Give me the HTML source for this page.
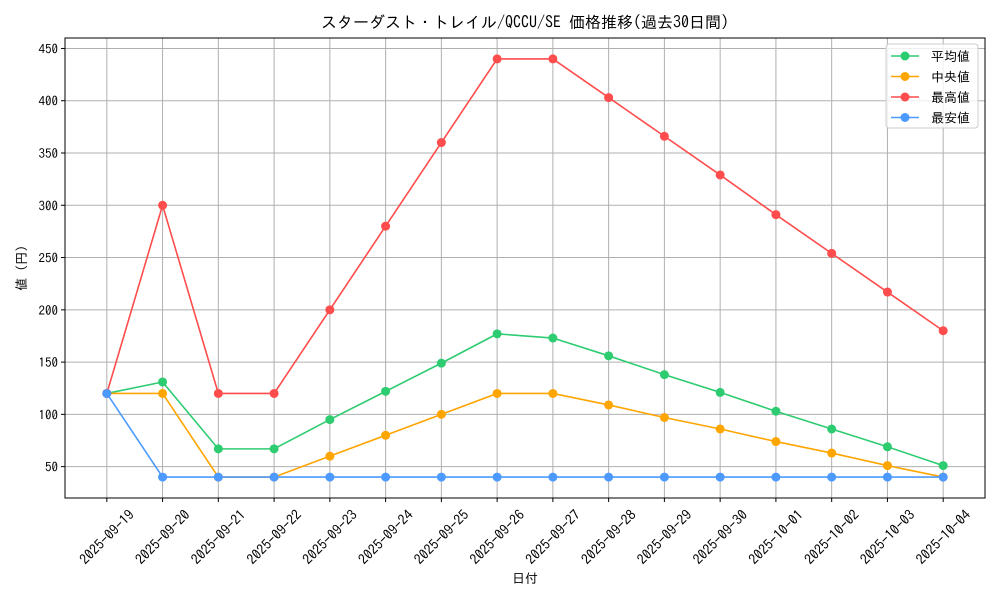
<!DOCTYPE html>
<html><head><meta charset="utf-8"><style>
html,body{margin:0;padding:0;background:#fff;}
svg text{font-family:"IPAGothic","Noto Sans CJK JP",monospace;fill:#000;}
</style></head><body>
<svg id="chart" width="1000" height="600" xmlns="http://www.w3.org/2000/svg">
<rect x="0" y="0" width="1000" height="600" fill="#fff"/>
<g id="grid"></g>
<g id="series"></g>
<rect x="65" y="38" width="920" height="460" fill="none" stroke="#000" stroke-width="1"/>
<g id="axes"></g>
<text x="525" y="28" text-anchor="middle" font-size="16">スターダスト・トレイル/QCCU/SE 価格推移(過去30日間)</text>
<text x="525" y="583" text-anchor="middle" font-size="13">日付</text>
<text transform="translate(26,268) rotate(-90)" text-anchor="middle" font-size="13">値 (円)</text>
<g id="legend">
<rect x="886" y="44" width="92" height="84" rx="3" fill="#fff" fill-opacity="0.8" stroke="#ccc"/>
</g>
</svg>
<script>
const categories=["2025-09-19","2025-09-20","2025-09-21","2025-09-22","2025-09-23","2025-09-24","2025-09-25","2025-09-26","2025-09-27","2025-09-28","2025-09-29","2025-09-30","2025-10-01","2025-10-02","2025-10-03","2025-10-04"];
const avgValues=[120,131,67,67,95,122,149,177,173,156,138,121,103,86,69,51];
const medianValues=[120,120,40,40,60,80,100,120,120,109,97,86,74,63,51,40];
const maxValues=[120,300,120,120,200,280,360,440,440,403,366,329,291,254,217,180];
const minValues=[120,40,40,40,40,40,40,40,40,40,40,40,40,40,40,40];
const yTicks=[50,100,150,200,250,300,350,400,450];
const seriesNames=["平均値","中央値","最高値","最安値"];
const seriesColors=["#2ecc71","#ffa500","#ff4c4c","#4c9aff"];

const NS="http://www.w3.org/2000/svg";
const L=65,R=985,T=38,B=498;
const all=[].concat(avgValues,medianValues,maxValues,minValues);
const vmin=Math.min(...all),vmax=Math.max(...all),pad=(vmax-vmin)*0.05;
const y0=vmin-pad,y1=vmax+pad;
const n=categories.length,xpad=(n-1)*0.05;
function xs(i){return L+(i+xpad)/((n-1)+2*xpad)*(R-L);}
function ys(v){return B-(v-y0)/(y1-y0)*(B-T);}
function mk(tag,attrs,parent){const e=document.createElementNS(NS,tag);for(const k in attrs)e.setAttribute(k,attrs[k]);parent.appendChild(e);return e;}
const grid=document.getElementById('grid'),axes=document.getElementById('axes'),ser=document.getElementById('series'),leg=document.getElementById('legend');
categories.forEach((c,i)=>{
  const x=xs(i);
  const g=mk('line',{x1:x,x2:x,y1:T,y2:B,stroke:'#b0b0b0','stroke-width':1},grid);
  
  
  mk('line',{x1:x,x2:x,y1:B,y2:B+4,stroke:'#000'},axes);
  const t=mk('text',{transform:`translate(${x},${B+39}) rotate(-45)`,'text-anchor':'middle','dominant-baseline':'central','font-size':14},axes);
  t.textContent=c;
  
  
});
yTicks.forEach(v=>{
  const y=ys(v);
  const g=mk('line',{x1:L,x2:R,y1:y,y2:y,stroke:'#b0b0b0','stroke-width':1},grid);
  
  
  mk('line',{x1:L-4,x2:L,y1:y,y2:y,stroke:'#000'},axes);
  const t=mk('text',{x:L-7,y:y+5,'text-anchor':'end','font-size':13},axes);
  t.textContent=v;
  
  
});
[avgValues,medianValues,maxValues,minValues].forEach((vals,s)=>{
  const col=seriesColors[s];
  const pl=mk('polyline',{points:vals.map((v,i)=>xs(i)+','+ys(v)).join(' '),fill:'none',stroke:col,'stroke-width':1.6},ser);
  
  
  vals.forEach((v,i)=>{
    const c=mk('circle',{cx:xs(i),cy:ys(v),r:4.5,fill:col},ser);
    
    
  });
  const ly=56+s*20.5;
  mk('line',{x1:891,x2:919,y1:ly,y2:ly,stroke:col,'stroke-width':1.6},leg);
  mk('circle',{cx:905,cy:ly,r:4.5,fill:col},leg);
  const t=mk('text',{x:931,y:ly+5,'font-size':13},leg);
  t.textContent=seriesNames[s];
  
  
});
</script>
</body></html>
